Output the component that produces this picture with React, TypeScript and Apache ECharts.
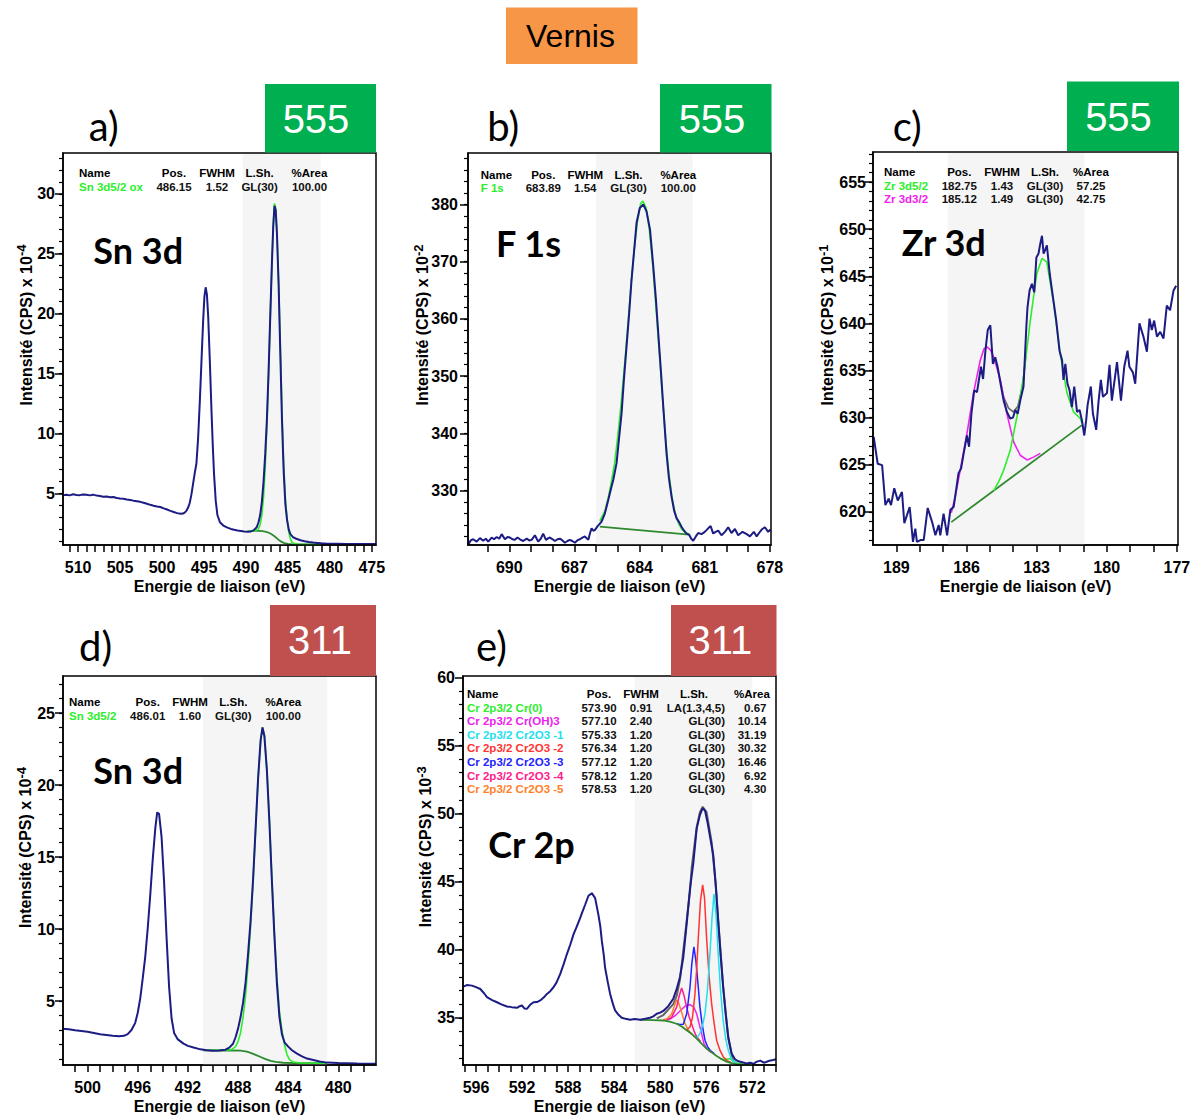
import React, { useEffect, useRef } from "react";
import * as echarts from "echarts";

// ---------------- DATA ----------------
// a) Sn 3d (555)
const aData = [
  [511.8, 4.86], [511.4, 4.9], [511.0, 4.84], [510.6, 4.93], [510.2, 4.88], [509.8, 4.86], [509.4, 4.92], [509.0, 4.89],
  [508.6, 4.84], [508.2, 4.9], [507.8, 4.82], [507.4, 4.78], [507.0, 4.73], [506.6, 4.74], [506.2, 4.68], [505.8, 4.7],
  [505.4, 4.62], [505.0, 4.58], [504.6, 4.55], [504.2, 4.5], [503.8, 4.46], [503.4, 4.4], [503.0, 4.35], [502.6, 4.3],
  [502.2, 4.22], [501.8, 4.14], [501.4, 4.05], [501.0, 3.98], [500.6, 3.92], [500.2, 3.87], [499.8, 3.76], [499.4, 3.66],
  [499.0, 3.55], [498.6, 3.45], [498.2, 3.36], [497.8, 3.3], [497.5, 3.32], [497.3, 3.4], [497.1, 3.55], [496.9, 3.8],
  [496.7, 4.2], [496.5, 4.9], [496.3, 5.8], [496.1, 6.7], [495.9, 7.5], [495.7, 9.6], [495.5, 12.6], [495.3, 16.0],
  [495.1, 19.4], [494.95, 21.4], [494.8, 22.2], [494.65, 21.6], [494.5, 19.8], [494.3, 16.0], [494.1, 11.8], [493.95, 9.0],
  [493.8, 6.6], [493.6, 4.4], [493.4, 3.2], [493.1, 2.6], [492.7, 2.32], [492.2, 2.15], [491.8, 2.04], [491.4, 1.97],
  [491.0, 1.91], [490.6, 1.87], [490.2, 1.83], [489.8, 1.8], [489.4, 1.83], [489.1, 1.92], [488.9, 2.05], [488.7, 2.2],
  [488.5, 2.6], [488.3, 3.2], [488.1, 4.3], [487.9, 6.0], [487.7, 8.3], [487.5, 11.2], [487.3, 15.2], [487.1, 19.8],
  [486.9, 24.3], [486.75, 27.2], [486.6, 29.0], [486.45, 28.6], [486.3, 26.6], [486.1, 22.3], [485.9, 16.6], [485.7, 11.0],
  [485.5, 6.8], [485.3, 4.1], [485.1, 2.8], [484.9, 2.0], [484.7, 1.6], [484.4, 1.36], [484.0, 1.22], [483.5, 1.1],
  [483.0, 1.02], [482.5, 0.95], [482.0, 0.9], [481.5, 0.87], [481.0, 0.84], [480.5, 0.82], [480.0, 0.81], [479.5, 0.8],
  [479.0, 0.8], [478.0, 0.79], [477.0, 0.79], [476.0, 0.78], [475.0, 0.78], [474.5, 0.78],
];
const aFit = [
  [489.8, 1.86], [489.2, 1.88], [488.8, 1.92], [488.5, 2.05], [488.3, 2.4], [488.1, 3.2], [487.9, 4.7], [487.7, 7.2],
  [487.5, 10.6], [487.3, 14.9], [487.1, 19.7], [486.9, 24.3], [486.75, 27.4], [486.6, 29.2], [486.45, 28.8], [486.3, 26.8],
  [486.1, 22.6], [485.9, 17.2], [485.7, 11.8], [485.5, 7.4], [485.3, 4.6], [485.1, 2.9], [484.9, 1.8], [484.7, 1.2],
  [484.5, 0.92], [484.2, 0.8], [483.8, 0.76], [483.0, 0.74], [481.2, 0.74],
];
const aBg = [
  [489.8, 1.86], [489.2, 1.88], [488.6, 1.87], [488.0, 1.85], [487.6, 1.8], [487.2, 1.7], [486.9, 1.58], [486.6, 1.43],
  [486.3, 1.25], [486.0, 1.07], [485.7, 0.94], [485.4, 0.86], [485.0, 0.8], [484.5, 0.76], [483.8, 0.74], [482.5, 0.74],
  [481.2, 0.74],
];
const aShade = [490.4, 481.1];
const aXLabels = [510, 505, 500, 495, 490, 485, 480, 475];
const aXTicks = [475, 476, 477, 478, 479, 480, 481, 482, 483, 484, 485, 486, 487, 488, 489, 490, 491, 492, 493, 494, 495,
  496, 497, 498, 499, 500, 501, 502, 503, 504, 505, 506, 507, 508, 509, 510, 511];
const aYLabels = [5, 10, 15, 20, 25, 30];
const aYMinor = [1, 2, 3, 4, 5, 6, 7, 8, 9, 10, 11, 12, 13, 14, 15, 16, 17, 18, 19, 20, 21, 22, 23, 24, 25, 26, 27, 28, 29,
  30, 31, 32, 33];

// b) F 1s (555)
const bData = [
  [691.89, 320.5], [691.78, 321.3], [691.66, 321.5], [691.5, 321.1], [691.35, 321.7], [691.2, 321.25], [691.08, 321.6],
  [690.97, 321.1], [690.81, 321.8], [690.7, 321.5], [690.58, 321.9], [690.46, 321.6], [690.35, 322.4], [690.2, 321.5],
  [690.08, 321.9], [689.97, 321.8], [689.85, 321.5], [689.74, 321.4], [689.62, 321.8], [689.51, 321.5], [689.36, 321.2],
  [689.2, 321.6], [689.08, 321.3], [688.97, 321.4], [688.82, 322.2], [688.67, 321.1], [688.55, 321.6], [688.44, 322.5],
  [688.31, 321.4], [688.2, 321.7], [688.13, 321.8], [688.0, 321.5], [687.9, 321.2], [687.78, 321.5], [687.67, 321.6],
  [687.55, 321.3], [687.44, 320.9], [687.32, 321.2], [687.21, 321.4], [687.1, 321.2], [686.98, 320.9], [686.87, 321.3],
  [686.75, 321.5], [686.63, 321.8], [686.52, 322.0], [686.36, 321.4], [686.28, 322.6], [686.21, 323.4], [686.13, 323.0],
  [686.06, 323.1], [685.95, 323.7], [685.86, 324.1], [685.75, 324.6], [685.6, 326.0], [685.44, 328.4], [685.3, 330.6],
  [685.21, 331.9], [685.06, 334.8], [684.95, 339.0], [684.83, 343.5], [684.72, 349.5], [684.6, 355.2], [684.48, 361.0],
  [684.37, 366.9], [684.25, 372.0], [684.14, 376.8], [683.99, 379.4], [683.83, 380.0], [683.68, 378.8], [683.52, 375.6],
  [683.37, 369.2], [683.25, 363.5], [683.14, 357.5], [683.02, 351.0], [682.91, 344.7], [682.76, 336.5], [682.65, 332.2],
  [682.53, 329.0], [682.41, 326.5], [682.3, 325.2], [682.18, 324.5], [682.07, 323.7], [681.95, 323.0], [681.84, 322.5],
  [681.72, 322.3], [681.62, 321.6], [681.53, 321.25], [681.41, 322.0], [681.3, 322.6], [681.15, 322.4], [681.03, 322.7],
  [680.92, 323.1], [680.82, 323.5], [680.73, 323.8], [680.61, 322.5], [680.5, 322.8], [680.38, 323.0], [680.23, 322.2],
  [680.07, 322.8], [679.92, 323.6], [679.77, 322.6], [679.61, 323.3], [679.46, 322.2], [679.36, 322.5], [679.26, 322.8],
  [679.07, 322.4], [678.92, 322.0], [678.74, 322.8], [678.61, 322.0], [678.5, 322.6], [678.38, 323.2], [678.23, 323.6],
  [678.08, 322.8], [677.97, 323.2],
];
const bFit = [
  [685.83, 324.7], [685.6, 326.4], [685.44, 328.8], [685.3, 331.5], [685.15, 334.8], [685.0, 339.6], [684.85, 345.2],
  [684.7, 351.6], [684.55, 358.5], [684.4, 365.6], [684.25, 372.0], [684.1, 377.0], [683.95, 380.2], [683.85, 380.6],
  [683.7, 379.4], [683.55, 375.6], [683.4, 369.6], [683.25, 362.3], [683.1, 354.5], [682.95, 346.5], [682.8, 339.0],
  [682.65, 333.0], [682.5, 328.6], [682.35, 325.9], [682.2, 324.2], [682.05, 323.2], [681.9, 322.7], [681.72, 322.4],
];
const bBg = [[685.83, 323.7], [681.72, 322.3]];
const bShade = [686.0, 681.56];
const bXLabels = [690, 687, 684, 681, 678];
const bXTicks = [678, 679, 680, 681, 682, 683, 684, 685, 686, 687, 688, 689, 690, 691];
const bYLabels = [330, 340, 350, 360, 370, 380];
const bYMinor = [322, 324, 326, 328, 330, 332, 334, 336, 338, 340, 342, 344, 346, 348, 350, 352, 354, 356, 358, 360, 362,
  364, 366, 368, 370, 372, 374, 376, 378, 380, 382, 384, 386, 388];

// c) Zr 3d (555)
const cData = [
  [189.97, 627.95], [189.8, 625.1], [189.61, 624.95], [189.47, 620.7], [189.33, 621.4], [189.23, 620.7], [189.09, 622.5],
  [188.94, 621.2], [188.76, 622.1], [188.66, 618.8], [188.43, 620.5], [188.29, 616.8], [188.19, 618.2], [188.12, 616.8],
  [187.97, 617.0], [187.83, 617.0], [187.66, 620.4], [187.47, 618.9], [187.33, 617.5], [187.19, 618.6], [187.12, 617.5],
  [186.98, 619.8], [186.83, 617.5], [186.69, 620.2], [186.55, 620.5], [186.34, 624.1], [186.23, 624.6], [186.12, 626.2],
  [185.98, 628.1], [185.89, 626.9], [185.79, 630.4], [185.67, 632.9], [185.55, 632.7], [185.38, 635.4], [185.29, 634.1],
  [185.19, 637.1], [185.09, 639.3], [184.98, 639.8], [184.87, 635.7], [184.77, 636.4], [184.67, 635.4], [184.52, 633.3],
  [184.41, 631.8], [184.27, 630.6], [184.13, 629.9], [184.01, 630.0], [183.91, 630.8], [183.81, 630.4], [183.7, 631.8],
  [183.56, 633.3], [183.44, 639.6], [183.39, 641.7], [183.3, 643.5], [183.2, 644.2], [183.1, 643.3], [183.01, 647.0],
  [182.92, 647.4], [182.84, 648.5], [182.77, 649.3], [182.7, 647.4], [182.63, 647.8], [182.56, 648.3], [182.44, 645.3],
  [182.3, 642.8], [182.16, 640.3], [182.02, 637.1], [181.91, 636.1], [181.85, 634.0], [181.77, 635.7], [181.68, 633.6],
  [181.59, 632.9], [181.49, 631.1], [181.39, 633.3], [181.27, 630.6], [181.16, 630.8], [181.06, 629.7], [180.96, 628.1],
  [180.88, 629.7], [180.82, 631.3], [180.68, 633.3], [180.59, 630.4], [180.45, 628.7], [180.35, 631.7], [180.25, 634.0],
  [180.16, 632.2], [179.99, 632.6], [179.88, 635.6], [179.78, 631.8], [179.56, 635.9], [179.39, 631.8], [179.25, 635.4],
  [179.11, 637.1], [179.03, 635.4], [178.88, 634.8], [178.78, 633.6], [178.6, 640.0], [178.43, 638.6], [178.28, 637.0],
  [178.17, 640.5], [178.07, 639.3], [177.97, 640.3], [177.85, 638.6], [177.71, 639.1], [177.57, 638.4], [177.43, 641.9],
  [177.29, 641.4], [177.14, 643.5], [177.03, 644.0],
];
const cFit52 = [
  [184.83, 622.25], [184.6, 623.3], [184.41, 624.4], [184.13, 626.5], [183.84, 630.1], [183.56, 634.3], [183.27, 640.3],
  [182.99, 645.3], [182.77, 646.9], [182.56, 646.5], [182.27, 642.1], [181.99, 636.8], [181.7, 632.6], [181.42, 630.6],
  [181.13, 629.9], [181.06, 629.4],
];
const cFit32 = [
  [186.65, 619.9], [186.48, 621.6], [186.27, 624.4], [185.98, 628.3], [185.7, 632.6], [185.41, 636.1], [185.25, 637.3],
  [185.12, 637.5], [184.98, 637.2], [184.83, 636.4], [184.55, 634.0], [184.27, 630.4], [183.98, 627.4], [183.7, 626.0],
  [183.41, 625.5], [183.13, 625.8], [182.84, 626.2],
];
const cEnv = [[184.45, 632.4], [184.2, 631.0], [184.0, 630.6], [183.8, 631.2], [183.6, 633.4], [183.45, 636.8]];
const cBg = [[186.65, 618.9], [181.06, 629.2]];
const cShade = [186.8, 180.95];
const cXLabels = [189, 186, 183, 180, 177];
const cXTicks = [177, 178, 179, 180, 181, 182, 183, 184, 185, 186, 187, 188, 189];
const cYLabels = [620, 625, 630, 635, 640, 645, 650, 655];
const cYMinor = [617, 618, 619, 620, 621, 622, 623, 624, 625, 626, 627, 628, 629, 630, 631, 632, 633, 634, 635, 636, 637,
  638, 639, 640, 641, 642, 643, 644, 645, 646, 647, 648, 649, 650, 651, 652, 653, 654, 655, 656, 657, 658];

// d) Sn 3d (311)
const dData = [
  [502.0, 3.09], [501.5, 3.05], [501.0, 2.99], [500.5, 2.94], [500.0, 2.88], [499.5, 2.8], [499.0, 2.71], [498.5, 2.66],
  [498.0, 2.61], [497.5, 2.57], [497.1, 2.6], [496.8, 2.72], [496.5, 3.0], [496.2, 3.5], [496.0, 4.2], [495.8, 5.2],
  [495.6, 6.6], [495.4, 8.1], [495.2, 10.1], [495.0, 12.4], [494.8, 14.9], [494.6, 17.0], [494.45, 18.1], [494.3, 18.0],
  [494.1, 16.4], [493.9, 13.3], [493.7, 9.4], [493.5, 6.0], [493.3, 3.8], [493.1, 2.8], [492.8, 2.35], [492.35, 2.06],
  [492.0, 1.9], [491.55, 1.79], [491.0, 1.66], [490.5, 1.6], [490.0, 1.57], [489.5, 1.58], [489.0, 1.64], [488.7, 1.78],
  [488.4, 2.05], [488.2, 2.5], [488.0, 3.1], [487.8, 3.9], [487.6, 4.9], [487.4, 6.3], [487.2, 8.3], [487.0, 10.6],
  [486.8, 13.5], [486.6, 17.0], [486.4, 20.5], [486.2, 23.1], [486.05, 24.0], [485.9, 23.4], [485.7, 21.0], [485.5, 17.4],
  [485.3, 13.3], [485.1, 9.5], [484.9, 6.2], [484.7, 3.9], [484.5, 2.7], [484.3, 2.15], [484.0, 1.85], [483.7, 1.6],
  [483.3, 1.36], [482.9, 1.17], [482.5, 1.02], [482.0, 0.92], [481.5, 0.82], [480.9, 0.74], [480.0, 0.71], [479.3, 0.7],
  [478.5, 0.68], [477.5, 0.66], [477.0, 0.66],
];
const dFit = [
  [490.8, 1.6], [489.0, 1.6], [488.5, 1.66], [488.2, 1.85], [488.0, 2.2], [487.8, 2.8], [487.6, 3.9], [487.4, 5.4],
  [487.2, 7.6], [487.0, 10.2], [486.8, 13.3], [486.6, 16.9], [486.4, 20.4], [486.2, 23.1], [486.05, 24.0], [485.9, 23.5],
  [485.7, 21.1], [485.5, 17.6], [485.3, 13.5], [485.1, 9.7], [484.9, 6.6], [484.7, 4.3], [484.5, 3.0], [484.3, 2.0],
  [484.1, 1.3], [483.9, 0.95], [483.6, 0.78], [483.0, 0.71], [481.0, 0.7],
];
const dBg = [
  [490.8, 1.6], [489.5, 1.58], [488.5, 1.58], [487.8, 1.57], [487.3, 1.5], [487.0, 1.42], [486.6, 1.28], [486.2, 1.13],
  [485.8, 0.98], [485.4, 0.86], [485.0, 0.79], [484.4, 0.73], [483.5, 0.71], [482.0, 0.7], [480.9, 0.7],
];
const dShade = [490.8, 480.9];
const dXLabels = [500, 496, 492, 488, 484, 480];
const dXTicks = [478, 479, 480, 481, 482, 483, 484, 485, 486, 487, 488, 489, 490, 491, 492, 493, 494, 495, 496, 497, 498,
  499, 500, 501];
const dYLabels = [5, 10, 15, 20, 25];
const dYMinor = [1, 2, 3, 4, 5, 6, 7, 8, 9, 10, 11, 12, 13, 14, 15, 16, 17, 18, 19, 20, 21, 22, 23, 24, 25, 26, 27];

// e) Cr 2p (311)
const eData = [
  [597.1, 37.29], [596.8, 37.4], [596.35, 37.36], [596.0, 37.25], [595.63, 37.11], [595.3, 36.8], [595.05, 36.51],
  [594.6, 36.3], [594.18, 36.14], [593.8, 35.98], [593.31, 35.83], [592.9, 35.78], [592.44, 35.73], [592.2, 35.85],
  [592.01, 35.9], [591.8, 35.68], [591.58, 35.66], [591.3, 35.95], [591.0, 36.14], [590.7, 36.15], [590.42, 36.27],
  [590.1, 36.5], [589.84, 36.75], [589.55, 36.95], [589.27, 37.24], [589.0, 37.6], [588.69, 38.2], [588.4, 38.9],
  [588.11, 39.66], [587.8, 40.4], [587.53, 41.12], [587.25, 41.7], [586.95, 42.33], [586.75, 42.8], [586.52, 43.3],
  [586.23, 43.96], [585.94, 44.15], [585.65, 43.79], [585.37, 42.57], [585.2, 41.7], [585.07, 40.64], [584.9, 39.6],
  [584.79, 38.69], [584.55, 37.6], [584.35, 36.75], [584.1, 36.0], [583.92, 35.54], [583.6, 35.2], [583.34, 35.0],
  [583.0, 34.92], [582.62, 34.85], [582.2, 34.9], [581.75, 34.85], [581.3, 34.92], [580.88, 35.0], [580.6, 35.1],
  [580.3, 35.29], [580.0, 35.38], [579.73, 35.5], [579.3, 35.85], [578.86, 36.4], [578.57, 37.1], [578.28, 38.0],
  [578.0, 39.4], [577.7, 41.9], [577.41, 44.5], [577.13, 46.3], [576.83, 48.9], [576.55, 49.9], [576.31, 50.4],
  [576.1, 50.2], [575.9, 49.4], [575.65, 48.2], [575.39, 46.94], [575.15, 44.5], [574.96, 42.09], [574.75, 39.6],
  [574.53, 37.24], [574.3, 35.2], [574.09, 33.6], [573.8, 32.38], [573.5, 31.95], [573.2, 31.8], [572.8, 31.72],
  [572.5, 31.65], [572.2, 31.7], [571.9, 31.62], [571.6, 31.78], [571.3, 31.85], [571.0, 31.7], [570.8, 31.75],
  [570.5, 31.85], [570.19, 31.9], [569.95, 31.95],
];
const eEnv = [
  [580.3, 34.95], [579.73, 35.2], [579.3, 35.6], [578.86, 36.0], [578.57, 36.6], [578.28, 37.8], [578.0, 39.9],
  [577.85, 41.0], [577.64, 42.57], [577.41, 44.3], [577.27, 45.98], [576.83, 49.0], [576.55, 50.1], [576.31, 50.5],
  [575.97, 50.1], [575.53, 47.9], [575.2, 45.0], [574.96, 42.2], [574.53, 37.3], [574.09, 33.5], [573.66, 31.8],
];
const eBg = [
  [581.75, 34.85], [580.6, 34.83], [579.73, 34.8], [579.1, 34.7], [578.57, 34.56], [578.1, 34.34], [577.7, 34.08],
  [577.25, 33.8], [576.83, 33.47], [576.4, 33.1], [575.97, 32.74], [575.5, 32.44], [575.1, 32.19], [574.65, 31.95],
  [574.23, 31.77], [573.8, 31.66], [573.36, 31.6], [572.8, 31.55], [572.2, 31.53],
];
const eCr0 = [[574.8, 31.98], [574.53, 31.95], [574.2, 31.95], [573.95, 32.0], [573.7, 31.85], [573.36, 31.68],
  [572.8, 31.58], [572.2, 31.55]];
const eOH = [
  [579.73, 34.85], [579.15, 34.9], [578.7, 35.15], [578.28, 35.49], [577.85, 35.85], [577.41, 35.97], [577.1, 35.8],
  [576.83, 35.29], [576.6, 34.5], [576.4, 33.83], [576.2, 33.1], [575.97, 32.75], [575.6, 32.45],
];
const eOx1 = [
  [576.83, 33.5], [576.55, 33.83], [576.3, 34.5], [576.11, 35.29], [575.9, 37.0], [575.68, 39.66], [575.5, 42.3],
  [575.33, 44.08], [575.15, 42.6], [574.96, 39.66], [574.75, 36.9], [574.53, 34.81], [574.3, 33.4], [574.09, 32.63],
  [573.85, 32.05], [573.66, 31.8], [573.3, 31.62],
];
const eOx2 = [
  [577.7, 34.1], [577.41, 34.32], [577.2, 35.0], [576.98, 36.75], [576.83, 38.6], [576.69, 40.88], [576.5, 43.6],
  [576.31, 44.76], [576.15, 43.8], [575.97, 40.88], [575.75, 38.0], [575.53, 36.02], [575.3, 34.5], [575.1, 33.35],
  [574.8, 32.6], [574.53, 32.14], [574.2, 31.85], [573.8, 31.7],
];
const eOx3 = [
  [578.57, 34.56], [578.3, 34.5], [577.99, 34.52], [577.85, 34.9], [577.7, 35.29], [577.55, 36.3], [577.41, 37.24],
  [577.25, 39.0], [577.07, 40.2], [576.9, 39.2], [576.69, 37.24], [576.55, 35.8], [576.4, 34.81], [576.25, 34.0],
  [576.11, 33.35], [575.9, 32.9], [575.68, 32.63], [575.3, 32.35],
];
const eOx4 = [
  [579.4, 34.8], [579.0, 35.05], [578.8, 35.4], [578.57, 35.78], [578.35, 36.6], [578.14, 37.19], [577.95, 36.7],
  [577.7, 35.78], [577.5, 35.1], [577.27, 34.56], [577.05, 34.0], [576.83, 33.6], [576.5, 33.25],
];
const eOx5 = [
  [579.73, 34.85], [579.43, 34.9], [579.2, 35.1], [579.0, 35.29], [578.8, 35.8], [578.6, 36.31], [578.4, 36.1],
  [578.14, 35.4], [577.85, 34.6], [577.6, 34.15], [577.48, 34.0], [577.2, 33.75],
];
const eShade = [582.2, 572.0];
const eXLabels = [596, 592, 588, 584, 580, 576, 572];
const eXTicks = [570, 571, 572, 573, 574, 575, 576, 577, 578, 579, 580, 581, 582, 583, 584, 585, 586, 587, 588, 589, 590,
  591, 592, 593, 594, 595, 596, 597];
const eYLabels = [35, 40, 45, 50, 55, 60];
const eYMinor = [32, 33, 34, 35, 36, 37, 38, 39, 40, 41, 42, 43, 44, 45, 46, 47, 48, 49, 50, 51, 52, 53, 54, 55, 56, 57, 58,
  59];

// Fit tables
const tableHead = ["Name", "Pos.", "FWHM", "L.Sh.", "%Area"];
const aRows = [["Sn 3d5/2 ox", "486.15", "1.52", "GL(30)", "100.00"]];
const bRows = [["F 1s", "683.89", "1.54", "GL(30)", "100.00"]];
const cRows = [["Zr 3d5/2", "182.75", "1.43", "GL(30)", "57.25"], ["Zr 3d3/2", "185.12", "1.49", "GL(30)", "42.75"]];
const dRows = [["Sn 3d5/2", "486.01", "1.60", "GL(30)", "100.00"]];
const eRows = [
  ["Cr 2p3/2 Cr(0)", "573.90", "0.91", "LA(1.3,4,5)", "0.67"],
  ["Cr 2p3/2 Cr(OH)3", "577.10", "2.40", "GL(30)", "10.14"],
  ["Cr 2p3/2 Cr2O3 -1", "575.33", "1.20", "GL(30)", "31.19"],
  ["Cr 2p3/2 Cr2O3 -2", "576.34", "1.20", "GL(30)", "30.32"],
  ["Cr 2p3/2 Cr2O3 -3", "577.12", "1.20", "GL(30)", "16.46"],
  ["Cr 2p3/2 Cr2O3 -4", "578.12", "1.20", "GL(30)", "6.92"],
  ["Cr 2p3/2 Cr2O3 -5", "578.53", "1.20", "GL(30)", "4.30"],
];

// ---------------- STYLE ----------------
const FONT = "'Liberation Sans', Arial, Helvetica, sans-serif";
const LATO = "Lato, 'Open Sans', sans-serif";
const NAVY = "#1c1c84";
const LIME = "#2cee2c";
const DKGREEN = "#2f8a2f";
const MAGENTA = "#ee22ee";
const GREY = "#666666";
const CYAN = "#22e0ee";
const RED = "#ff3333";
const BLUE2 = "#2222ff";
const PINK = "#ff1a8c";
const ORANGE = "#ff7f2a";

type Line = { data: number[][]; color: string; width: number };
type Panel = {
  grid: { left: number; top: number; width: number; height: number };
  x: number[]; y: number[];
  xLabels: number[]; xTicks: number[]; yLabels: number[]; yMinor: number[];
  shade: number[]; lines: Line[]; yMargin: number;
};

const panels: Panel[] = [
  {
    grid: { left: 63, top: 153, width: 313, height: 392 }, x: [474.5, 511.8], y: [0.7, 33.4],
    xLabels: aXLabels, xTicks: aXTicks, yLabels: aYLabels, yMinor: aYMinor, shade: aShade, yMargin: 8,
    lines: [
      { data: aBg, color: DKGREEN, width: 1.8 },
      { data: aFit, color: LIME, width: 1.6 },
      { data: aData, color: NAVY, width: 2 },
    ],
  },
  {
    grid: { left: 468, top: 153, width: 303, height: 392 }, x: [677.95, 691.9], y: [320.5, 389],
    xLabels: bXLabels, xTicks: bXTicks, yLabels: bYLabels, yMinor: bYMinor, shade: bShade, yMargin: 10,
    lines: [
      { data: bBg, color: DKGREEN, width: 1.8 },
      { data: bFit, color: LIME, width: 1.6 },
      { data: bData, color: NAVY, width: 2 },
    ],
  },
  {
    grid: { left: 873, top: 152, width: 305, height: 393 }, x: [176.95, 190.0], y: [616.47, 658.2],
    xLabels: cXLabels, xTicks: cXTicks, yLabels: cYLabels, yMinor: cYMinor, shade: cShade, yMargin: 7,
    lines: [
      { data: cBg, color: DKGREEN, width: 1.8 },
      { data: cEnv, color: GREY, width: 1.6 },
      { data: cFit32, color: MAGENTA, width: 1.6 },
      { data: cFit52, color: LIME, width: 1.6 },
      { data: cData, color: NAVY, width: 2 },
    ],
  },
  {
    grid: { left: 63, top: 676, width: 313, height: 392 }, x: [477.0, 501.96], y: [0.575, 27.57],
    xLabels: dXLabels, xTicks: dXTicks, yLabels: dYLabels, yMinor: dYMinor, shade: dShade, yMargin: 8,
    lines: [
      { data: dBg, color: DKGREEN, width: 1.8 },
      { data: dFit, color: LIME, width: 1.6 },
      { data: dData, color: NAVY, width: 2 },
    ],
  },
  {
    grid: { left: 463, top: 676, width: 313, height: 392 }, x: [569.94, 597.13], y: [31.53, 60.1],
    xLabels: eXLabels, xTicks: eXTicks, yLabels: eYLabels, yMinor: eYMinor, shade: eShade, yMargin: 8,
    lines: [
      { data: eEnv, color: GREY, width: 2 },
      { data: eCr0, color: LIME, width: 1.5 },
      { data: eOH, color: MAGENTA, width: 1.5 },
      { data: eOx5, color: ORANGE, width: 1.5 },
      { data: eOx4, color: PINK, width: 1.5 },
      { data: eOx3, color: BLUE2, width: 1.5 },
      { data: eOx2, color: RED, width: 1.5 },
      { data: eOx1, color: CYAN, width: 1.5 },
      { data: eBg, color: DKGREEN, width: 1.8 },
      { data: eData, color: NAVY, width: 2 },
    ],
  },
];

const axisFont = { fontSize: 16, fontWeight: "bold", color: "#000", fontFamily: FONT };

function txt(x: number, y: number, text: string, o: any = {}) {
  const align = o.align || "left";
  const valign = o.valign || "middle";
  return {
    type: "text", x, y, silent: true, z: 100, rotation: o.rotation || 0,
    style: {
      text, fill: o.fill || "#000", fontSize: o.size || 11.5, fontWeight: o.weight || "bold",
      fontFamily: o.family || FONT, align, textAlign: align, verticalAlign: valign, textVerticalAlign: valign,
      rich: o.rich,
    },
  };
}

function table(rows: string[][], colors: string[], nameX: number, cols: number[], headY: number, step: number,
  valAlign?: { x: number; align: string }[]) {
  const els: any[] = [];
  els.push(txt(nameX, headY, tableHead[0]));
  for (let c = 1; c < 5; c++) els.push(txt(cols[c - 1], headY, tableHead[c], { align: "center" }));
  rows.forEach((r, i) => {
    const y = headY + step * (i + 1);
    els.push(txt(nameX, y, r[0], { fill: colors[i] }));
    for (let c = 1; c < 5; c++) {
      const va = valAlign ? valAlign[c - 1] : { x: cols[c - 1], align: "center" };
      els.push(txt(va.x, y, r[c], { align: va.align, fill: "#111" }));
    }
  });
  return els;
}

function yName(x: number, y: number, sup: string) {
  return txt(x, y, "{m|Intensité (CPS) x 10}{s|" + sup + "}", {
    align: "center", rotation: Math.PI / 2, size: 16,
    rich: {
      m: { fontSize: 16, fontWeight: "bold", fontFamily: FONT, lineHeight: 22, fill: "#000" },
      s: { fontSize: 13, fontWeight: "bold", fontFamily: FONT, lineHeight: 12, verticalAlign: "top", fill: "#000" },
    },
  });
}

function box(x: number, y: number, w: number, h: number, color: string) {
  return { type: "rect", silent: true, z: 90, shape: { x, y, width: w, height: h }, style: { fill: color } };
}

function buildOption() {
  const grid: any[] = [];
  const xAxis: any[] = [];
  const yAxis: any[] = [];
  const series: any[] = [];
  panels.forEach((p, i) => {
    grid.push({ ...p.grid, show: true, borderColor: "#000", borderWidth: 1.5, backgroundColor: "rgba(0,0,0,0)", z: 5 });
    xAxis.push({
      type: "value", gridIndex: i, min: p.x[0], max: p.x[1], inverse: true, position: "bottom",
      axisLine: { show: true, onZero: false, lineStyle: { color: "#000", width: 1.5 } },
      axisTick: { show: true, inside: false, length: 7, lineStyle: { color: "#000", width: 1.5 }, customValues: p.xTicks },
      axisLabel: { show: true, customValues: p.xLabels, margin: 14, hideOverlap: false, ...axisFont },
      splitLine: { show: false },
      name: "Energie de liaison (eV)", nameLocation: "middle", nameGap: 33, nameTextStyle: axisFont,
    });
    yAxis.push({
      type: "value", gridIndex: i, min: p.y[0], max: p.y[1], position: "left",
      axisLine: { show: true, onZero: false, lineStyle: { color: "#000", width: 1.5 } },
      axisTick: { show: true, inside: false, length: 8, lineStyle: { color: "#000", width: 1.5 }, customValues: p.yLabels },
      axisLabel: { show: true, customValues: p.yLabels, margin: p.yMargin, hideOverlap: false, ...axisFont },
      splitLine: { show: false },
    });
    yAxis.push({
      type: "value", gridIndex: i, min: p.y[0], max: p.y[1], position: "left",
      axisLine: { show: false, onZero: false },
      axisTick: { show: true, inside: false, length: 4, lineStyle: { color: "#000", width: 1.2 }, customValues: p.yMinor },
      axisLabel: { show: false },
      splitLine: { show: false },
    });
    p.lines.forEach((l, k) => {
      const s: any = {
        type: "line", xAxisIndex: i, yAxisIndex: 2 * i, data: l.data, showSymbol: false, symbol: "none",
        silent: true, lineStyle: { color: l.color, width: l.width }, itemStyle: { color: l.color },
      };
      if (k === 0) {
        s.markArea = {
          silent: true, itemStyle: { color: "#f5f5f5" },
          data: [[{ xAxis: p.shade[0] }, { xAxis: p.shade[1] }]],
        };
      }
      series.push(s);
    });
  });

  const G = "#00B050";
  const R = "#C0504D";
  const graphic: any[] = [
    box(506, 7.5, 131.5, 56.5, "#F79646"),
    txt(570.5, 35.5, "Vernis", { align: "center", size: 32, weight: "normal" }),
    box(265, 84, 111, 68.5, G), txt(316, 119, "555", { align: "center", size: 40, weight: "normal", fill: "#fff" }),
    box(660, 84, 111.5, 68.5, G), txt(712, 119, "555", { align: "center", size: 40, weight: "normal", fill: "#fff" }),
    box(1067, 81.5, 112, 69.5, G), txt(1118.5, 117, "555", { align: "center", size: 40, weight: "normal", fill: "#fff" }),
    box(270, 605, 106, 71, R), txt(320, 640, "311", { align: "center", size: 40, weight: "normal", fill: "#fff" }),
    box(671, 605, 105.5, 71, R), txt(720.3, 640, "311", { align: "center", size: 40, weight: "normal", fill: "#fff" }),
    txt(88.7, 125.5, "a)", { size: 40, weight: "normal", family: LATO }),
    txt(487.3, 125.5, "b)", { size: 40, weight: "normal", family: LATO }),
    txt(892.7, 126, "c)", { size: 40, weight: "normal", family: LATO }),
    txt(79, 646, "d)", { size: 40, weight: "normal", family: LATO }),
    txt(476, 645.5, "e)", { size: 40, weight: "normal", family: LATO }),
    txt(93.3, 249.7, "Sn 3d", { size: 36, family: LATO }),
    txt(496, 242.5, "F 1s", { size: 36, family: LATO }),
    txt(901.7, 242.3, "Zr 3d", { size: 36, family: LATO }),
    txt(93.3, 769.7, "Sn 3d", { size: 36, family: LATO }),
    txt(488.3, 843.8, "Cr 2p", { size: 36, family: LATO }),
    yName(26, 325, "-4"),
    yName(422.5, 325, "-2"),
    yName(827.5, 325, "-1"),
    yName(25.5, 847.5, "-4"),
    yName(425.8, 846.7, "-3"),
    ...table(aRows, [LIME], 79, [174, 217, 259.6, 309.5], 172.7, 14),
    ...table(bRows, [LIME], 480.7, [543.3, 585.3, 628.5, 678.3], 175, 13.3),
    ...table(cRows, [LIME, MAGENTA], 884, [959.3, 1002, 1045, 1091], 172.3, 13.5),
    ...table(dRows, [LIME], 69, [147.7, 190, 233.3, 283.3], 702.3, 13.7),
    ...table(eRows, [LIME, MAGENTA, CYAN, RED, BLUE2, PINK, ORANGE], 467, [599, 641, 694, 752], 694, 13.6,
      [{ x: 599, align: "center" }, { x: 641, align: "center" }, { x: 725, align: "right" }, { x: 766.5, align: "right" }]),
  ];

  return {
    animation: false,
    backgroundColor: "#fff",
    textStyle: { fontFamily: FONT },
    grid, xAxis, yAxis, series, graphic,
  };
}

export default function App() {
  const ref = useRef<HTMLDivElement>(null);
  useEffect(() => {
    document.body.style.margin = "0";
    const chart = echarts.init(ref.current as HTMLDivElement, null, { renderer: "svg" });
    chart.setOption(buildOption() as any);
    return () => chart.dispose();
  }, []);
  return <div ref={ref} style={{ width: 1195, height: 1115 }} />;
}
